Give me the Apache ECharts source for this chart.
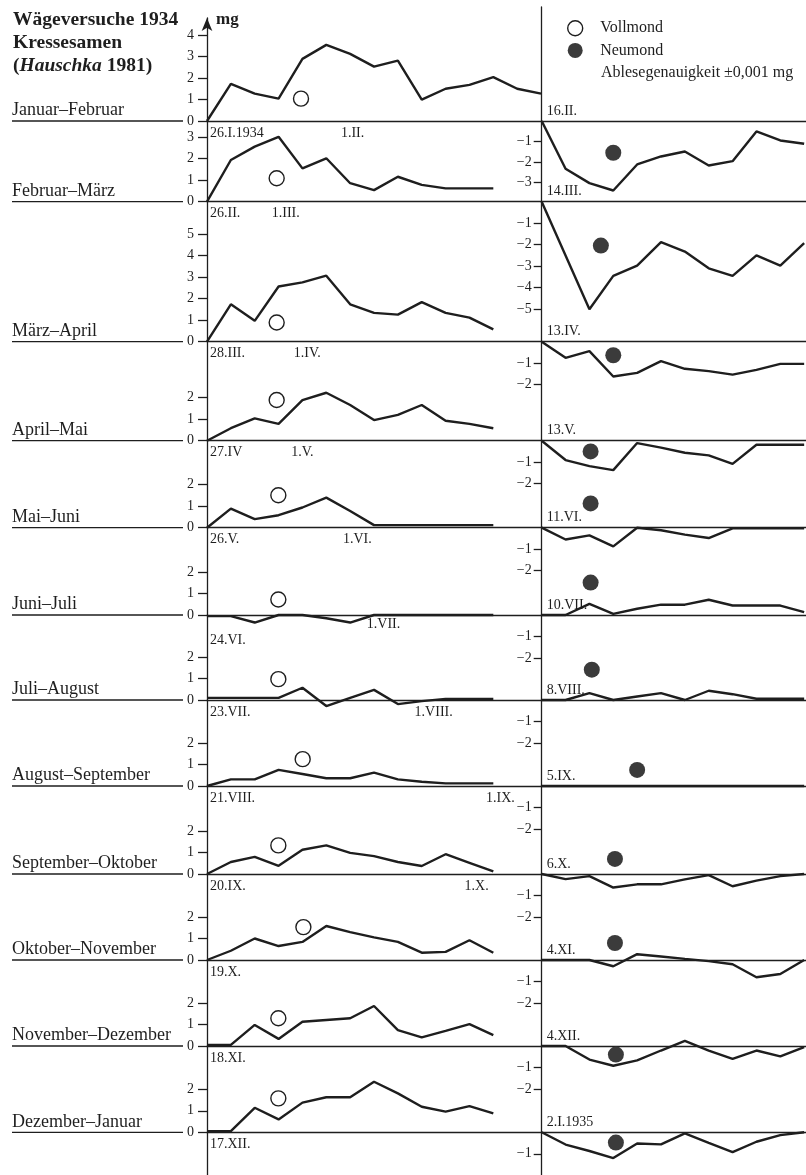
<!DOCTYPE html>
<html><head><meta charset="utf-8">
<script src="https://cdn.jsdelivr.net/npm/echarts@6/dist/echarts.min.js"></script>
<style>html,body{margin:0;padding:0;background:#fff}#c{width:806px;height:1175px}</style>
</head><body><div id="c"></div>
<script>
// ================= DATA =================
const rowLabels = ['Januar–Februar','Februar–März','März–April','April–Mai','Mai–Juni','Juni–Juli',
  'Juli–August','August–September','September–Oktober','Oktober–November','November–Dezember','Dezember–Januar'];
const leftStartDates = ['26.I.1934','26.II.','28.III.','27.IV','26.V.','24.VI.','23.VII.','21.VIII.','20.IX.','19.X.','18.XI.','17.XII.'];
const leftMidDates = ['1.II.','1.III.','1.IV.','1.V.','1.VI.','1.VII.','1.VIII.','1.IX.','1.X.',null,null,null];
const leftMidDays  = [6.1, 3.3, 4.2, 4.0, 6.3, 7.4, 9.5, 12.3, 11.3, null, null, null];

// gain (mg) per day, left panels
const gainJanFeb = [0, 1.73, 1.27, 1.04, 2.89, 3.54, 3.12, 2.53, 2.81, 0.99, 1.5, 1.68, 2.04, 1.5, 1.27];
const gainFebMar = [0, 1.94, 2.56, 3.02, 1.55, 2.02, 0.86, 0.54, 1.16, 0.78, 0.62, 0.62, 0.62];
const gainMarApr = [0, 1.74, 0.97, 2.57, 2.76, 3.07, 1.74, 1.34, 1.26, 1.84, 1.34, 1.12, 0.57];
const gainAprMai = [0, 0.58, 1.04, 0.78, 1.89, 2.23, 1.66, 0.96, 1.2, 1.66, 0.93, 0.78, 0.58];
const gainMaiJun = [0, 0.89, 0.40, 0.58, 0.94, 1.4, 0.78, 0.12, 0.12, 0.12, 0.12, 0.12, 0.12];
const gainJunJul = [-0.05, -0.05, -0.35, 0, 0, -0.15, -0.35, 0, 0, 0, 0, 0, 0];
const gainJulAug = [0.1, 0.1, 0.1, 0.1, 0.57, -0.28, 0.1, 0.47, -0.19, -0.05, 0.05, 0.05, 0.05];
const gainAugSep = [0, 0.31, 0.31, 0.75, 0.56, 0.36, 0.36, 0.62, 0.31, 0.2, 0.12, 0.12, 0.12];
const gainSepOkt = [0, 0.56, 0.8, 0.38, 1.13, 1.33, 0.98, 0.83, 0.56, 0.37, 0.92, 0.52, 0.12];
const gainOktNov = [0, 0.43, 1.0, 0.65, 0.84, 1.58, 1.3, 1.05, 0.84, 0.34, 0.38, 0.92, 0.34];
const gainNovDez = [0.05, 0.05, 0.98, 0.33, 1.13, 1.21, 1.29, 1.86, 0.74, 0.4, 0.7, 1.02, 0.51];
const gainDezJan = [0.05, 0.05, 1.14, 0.6, 1.38, 1.63, 1.63, 2.35, 1.81, 1.19, 0.96, 1.22, 0.88];

// full moon markers (day, mg)
const fullMoonDay = [3.94, 2.92, 2.92, 2.92, 2.99, 2.99, 2.99, 4.01, 2.99, 4.04, 2.99, 2.99];
const fullMoonVal = [1.04, 1.09, 0.89, 1.89, 1.51, 0.72, 0.97, 1.25, 1.33, 1.53, 1.29, 1.58];

// right panels (new moon periods)
const rightDates = ['16.II.','14.III.','13.IV.','13.V.','11.VI.','10.VII.','8.VIII.','5.IX.','6.X.','4.XI.','4.XII.','2.I.1935'];
const loss16II  = [0, -2.33, -3.03, -3.39, -2.12, -1.73, -1.49, -2.17, -1.96, -0.51, -0.95, -1.11];
const loss14III = [0, -2.5, -5.0, -3.45, -2.97, -1.88, -2.32, -3.1, -3.45, -2.5, -2.97, -1.93];
const loss13IV  = [0, -0.75, -0.44, -1.62, -1.45, -0.9, -1.26, -1.37, -1.53, -1.31, -1.03, -1.03];
const loss13V   = [0, -0.9, -1.18, -1.37, -0.11, -0.32, -0.56, -0.68, -1.08, -0.19, -0.19, -0.19];
const loss11VI  = [0, -0.55, -0.36, -0.87, 0, -0.12, -0.32, -0.48, -0.03, -0.03, -0.03, -0.03];
const loss10VII = [0, 0, 0.52, 0.05, 0.29, 0.48, 0.48, 0.71, 0.44, 0.44, 0.44, 0.13];
const loss8VIII = [0, 0, 0.32, 0, 0.16, 0.32, 0, 0.43, 0.27, 0.06, 0.06, 0.06];
const loss5IX   = [0, 0, 0, 0, 0, 0, 0, 0, 0, 0, 0, 0];
const loss6X    = [0, -0.24, -0.1, -0.63, -0.48, -0.48, -0.25, -0.05, -0.57, -0.31, -0.1, 0];
const loss4XI   = [0, 0, 0, -0.29, 0.27, 0.16, 0.05, -0.05, -0.2, -0.8, -0.65, 0];
const loss4XII  = [0, 0, -0.63, -0.92, -0.67, -0.21, 0.24, -0.21, -0.6, -0.21, -0.48, -0.05];
const loss2I1935= [0, -0.57, -0.87, -1.2, -0.52, -0.56, -0.05, -0.49, -0.92, -0.44, -0.13, 0];

// new moon markers (day, mg)
const newMoonDay = [3.0, 2.48, 3.0, 2.05, 2.05, 2.05, 2.1, 4.0, 3.07, 3.07, 3.11, 3.11];
const newMoonVal = [-1.55, -2.04, -0.63, -0.5, 1.13, 1.51, 1.41, 0.75, 0.7, 0.79, -0.4, -0.48];

// tick labels
const leftTicks = [[0,1,2,3,4],[0,1,2,3],[0,1,2,3,4,5],[0,1,2],[0,1,2],[0,1,2],[0,1,2],[0,1,2],[0,1,2],[0,1,2],[0,1,2],[0,1,2]];
const rightTicks = [[-1,-2,-3],[-1,-2,-3,-4,-5],[-1,-2],[-1,-2],[-1,-2],[-1,-2],[-1,-2],[-1,-2],[-1,-2],[-1,-2],[-1,-2],[-1,-2]];

const leftGains = [gainJanFeb,gainFebMar,gainMarApr,gainAprMai,gainMaiJun,gainJunJul,gainJulAug,gainAugSep,gainSepOkt,gainOktNov,gainNovDez,gainDezJan];
const rightLosses = [loss16II,loss14III,loss13IV,loss13V,loss11VI,loss10VII,loss8VIII,loss5IX,loss6X,loss4XI,loss4XII,loss2I1935];

// ================= LAYOUT =================
const H = 1175;
const baseY = [121, 201.7, 341.7, 440.7, 527.7, 615, 700, 786, 874, 960, 1046, 1132.3];
const U = 21.5, U0 = 20.5, DAY = 23.86;
const LX = 207, RX = 541.7, RR = 806;
const FONT = "'Liberation Serif','DejaVu Serif',serif";
const INK = '#1e1e1e';
const lowStartRow = 5;

const grids = [], xAxes = [], yAxes = [], series = [];
const axisLineStyle = {color: INK, width: 1.3};
const tickLabel = {fontFamily: FONT, fontSize: 14, color: INK};
const dateLabel = {fontFamily: FONT, fontSize: 14, color: INK};

for (let r = 0; r < 12; r++) {
  const top = r === 0 ? 18 : baseY[r - 1];
  const bottom = baseY[r];
  grids.push({left: LX, top: top, width: RX - LX, height: bottom - top, outerBoundsMode: 'none'});
  const labVals = [0], labTxt = [leftStartDates[r]];
  if (leftMidDates[r]) { labVals.push(leftMidDays[r]); labTxt.push(leftMidDates[r]); }
  xAxes.push({
    gridIndex: r, type: 'value', min: 0, max: (RX - LX) / DAY, position: 'bottom',
    axisLine: {show: true, onZero: false, lineStyle: axisLineStyle},
    axisTick: {show: false}, splitLine: {show: false},
    axisLabel: {
      show: true, customValues: labVals, alignMinLabel: 'left', margin: r === lowStartRow ? 2 : 5,
      ...dateLabel,
      formatter: function (v) {
        let k = 0;
        for (let j = 0; j < labVals.length; j++) if (Math.abs(labVals[j] - v) < 1e-6) k = j;
        if (k === 0) return (r === lowStartRow ? '{low|' : '{st|') + labTxt[k] + '}';
        return labTxt[k];
      },
      rich: {
        low: {padding: [16, 0, 0, 3], ...dateLabel},
        st: {padding: [0, 0, 0, 3], ...dateLabel}
      }
    }
  });
  yAxes.push({
    gridIndex: r, type: 'value', min: 0, max: (baseY[r] - top) / U,
    axisLine: {show: true, onZero: false, lineStyle: axisLineStyle,
      symbol: r === 0 ? ['none', 'arrow'] : 'none', symbolSize: [8, 13]},
    axisTick: {show: true, customValues: leftTicks[r], length: 9, lineStyle: axisLineStyle},
    axisLabel: {show: true, customValues: leftTicks[r], margin: 13, ...tickLabel},
    splitLine: {show: false}
  });
  series.push({
    type: 'line', xAxisIndex: r, yAxisIndex: r, symbol: 'none', clip: false, silent: true,
    lineStyle: {color: INK, width: 2.4}, data: leftGains[r].map((v, i) => [i, v])
  });
  series.push({
    type: 'scatter', name: 'Vollmond', xAxisIndex: r, yAxisIndex: r, clip: false, silent: true,
    symbol: 'circle', symbolSize: 15,
    itemStyle: {color: '#fff', borderColor: INK, borderWidth: 1.4, opacity: 1},
    data: [[fullMoonDay[r], fullMoonVal[r]]]
  });
}

for (let s = 0; s < 12; s++) {
  const gi = 12 + s;
  const top = baseY[s];
  const bottom = s === 11 ? H : baseY[s + 1];
  const u = s === 0 ? U0 : U;
  grids.push({left: RX, top: top, width: RR - RX, height: bottom - top, outerBoundsMode: 'none'});
  xAxes.push({
    gridIndex: gi, type: 'value', min: 0, max: (RR - RX) / DAY, position: 'top',
    axisLine: {show: true, onZero: false, lineStyle: axisLineStyle},
    axisTick: {show: false}, splitLine: {show: false},
    axisLabel: {show: true, customValues: [0], align: 'left', margin: 3, ...dateLabel,
      formatter: () => '{p|' + rightDates[s] + '}',
      rich: {p: {padding: [0, 0, 0, 5], ...dateLabel}}}
  });
  yAxes.push({
    gridIndex: gi, type: 'value', min: -(bottom - baseY[s]) / u, max: 0,
    axisLine: {show: true, onZero: false, lineStyle: axisLineStyle},
    axisTick: {show: true, customValues: rightTicks[s], length: 8, lineStyle: axisLineStyle},
    axisLabel: {show: true, customValues: rightTicks[s], margin: 10, ...tickLabel,
      formatter: v => (v < 0 ? '−' : '') + Math.abs(v)},
    splitLine: {show: false}
  });
  series.push({
    type: 'line', xAxisIndex: gi, yAxisIndex: gi, symbol: 'none', clip: false, silent: true,
    lineStyle: {color: INK, width: 2.4}, data: rightLosses[s].map((v, i) => [i, v])
  });
  series.push({
    type: 'scatter', name: 'Neumond', xAxisIndex: gi, yAxisIndex: gi, clip: false, silent: true,
    symbol: 'circle', symbolSize: 16, itemStyle: {color: '#3b3b3b', opacity: 1},
    data: [[newMoonDay[s], newMoonVal[s]]]
  });
}

// axis-line-only extensions: left axis below last row, right axis above first section
const extra = [
  {left: LX, top: baseY[11], height: H - baseY[11]},
  {left: RX, top: 7, height: baseY[0] - 7}
];
extra.forEach(function (e, k) {
  const gi = 24 + k;
  grids.push({left: e.left, top: e.top, width: 50, height: e.height, outerBoundsMode: 'none'});
  xAxes.push({gridIndex: gi, type: 'value', min: 0, max: 1, show: false});
  yAxes.push({gridIndex: gi, type: 'value', min: 0, max: 1,
    axisLine: {show: true, onZero: false, lineStyle: axisLineStyle},
    axisTick: {show: false}, axisLabel: {show: false}, splitLine: {show: false}});
});

const graphics = [];
for (let r = 0; r < 12; r++) {
  graphics.push({type: 'line', silent: true, shape: {x1: 12, y1: baseY[r], x2: 183, y2: baseY[r]},
    style: {stroke: INK, lineWidth: 1.3}});
  graphics.push({type: 'text', silent: true, x: 12, y: baseY[r] - 1.5,
    style: {text: rowLabels[r], font: "18px " + FONT, fill: INK, align: 'left', verticalAlign: 'bottom'}});
}
graphics.push({type: 'text', silent: true, x: 216, y: 28,
  style: {text: 'mg', font: "bold 17px " + FONT, fill: INK, align: 'left', verticalAlign: 'bottom'}});
graphics.push({type: 'text', silent: true, x: 601, y: 81,
  style: {text: 'Ablesegenauigkeit ±0,001 mg', font: "16px " + FONT, fill: INK, align: 'left', verticalAlign: 'bottom'}});

const chart = echarts.init(document.getElementById('c'), null, {renderer: 'canvas'});
chart.setOption({
  animation: false,
  backgroundColor: '#fff',
  title: {
    left: 8, top: 3,
    text: '{b|Wägeversuche 1934}\n{b|Kressesamen}\n{b|(}{bi|Hauschka}{b| 1981)}',
    textStyle: {rich: {
      b: {fontFamily: FONT, fontSize: 19.5, fontWeight: 'bold', color: INK, lineHeight: 23},
      bi: {fontFamily: FONT, fontSize: 19.5, fontWeight: 'bold', fontStyle: 'italic', color: INK, lineHeight: 23}
    }}
  },
  legend: {
    orient: 'vertical', left: 562, top: 15, itemWidth: 40, itemHeight: 15, itemGap: 6,
    selectedMode: false,
    textStyle: {fontFamily: FONT, fontSize: 16, color: INK},
    data: [
      {name: 'Vollmond', icon: 'circle', itemStyle: {color: '#fff', borderColor: INK, borderWidth: 1.4}},
      {name: 'Neumond', icon: 'circle', itemStyle: {color: '#3b3b3b'}}
    ]
  },
  grid: grids, xAxis: xAxes, yAxis: yAxes, series: series, graphic: graphics
});
</script></body></html>
